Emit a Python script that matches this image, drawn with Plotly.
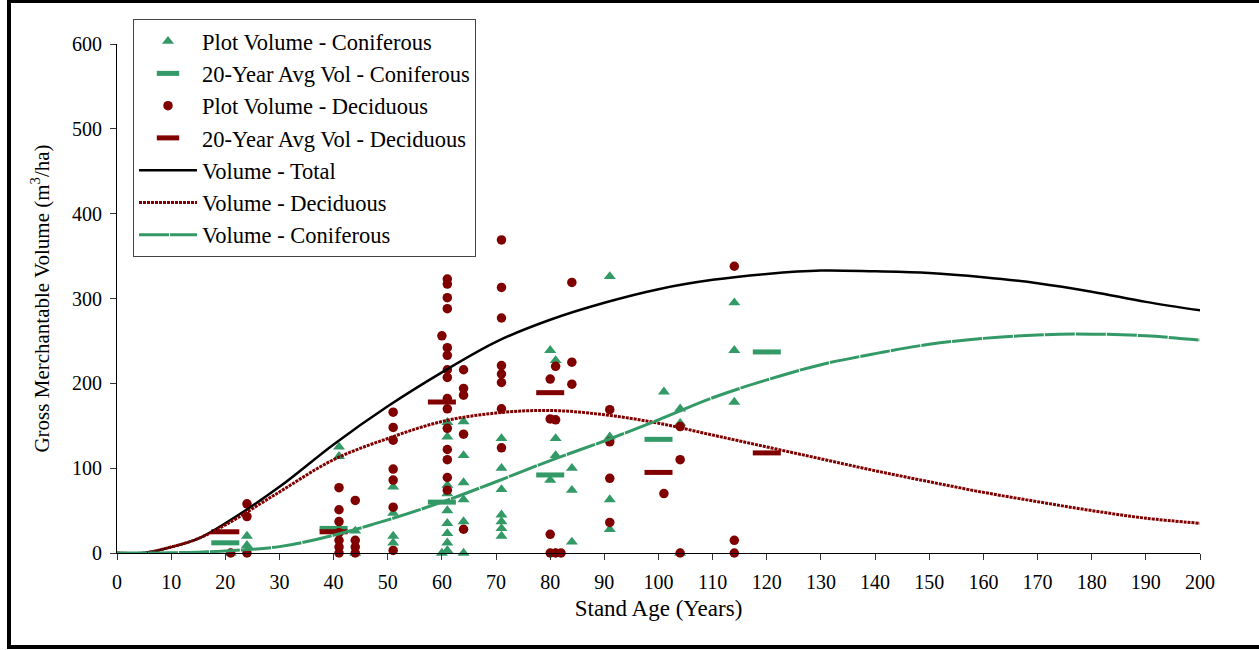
import plotly.graph_objects as go

# ---- data ----
con_age = [21, 24, 24, 41, 41, 44, 44, 51, 51, 51, 51, 60,
           61, 61, 61, 61, 61, 61, 61, 61, 61,
           64, 64, 64, 64, 64, 64,
           71, 71, 71, 71, 71, 71, 71,
           80, 80, 81, 81, 81, 81, 84, 84, 84,
           91, 91, 91, 91, 101, 104, 104, 104, 114, 114, 114]
con_vol = [0, 20, 9, 125, 114, 26, 0, 78, 47, 20, 12, 0,
           154, 137, 80, 70, 50, 35, 23, 12, 3,
           155, 115, 83, 63, 37, 0,
           135, 100, 75, 45, 37, 29, 20,
           239, 86, 227, 135, 115, 0, 100, 74, 13,
           326, 137, 63, 28, 190, 170, 153, 0, 295, 239, 178]

dec_age = [21, 24, 24, 24, 41, 41, 41, 41, 41, 41, 41, 44, 44, 44, 44,
           51, 51, 51, 51, 51, 51, 51, 60,
           61, 61, 61, 61, 61, 61, 61, 61, 61, 61, 61, 61, 61, 61, 61,
           64, 64, 64, 64, 64,
           71, 71, 71, 71, 71, 71, 71, 71,
           80, 80, 80, 80, 81, 81, 81, 82, 84, 84, 84,
           91, 91, 91, 91, 101, 104, 104, 104, 114, 114, 114]
dec_vol = [0, 58, 43, 0, 77, 51, 37, 24, 15, 7, 0, 62, 15, 7, 0,
           166, 148, 133, 99, 86, 54, 3, 256,
           323, 317, 301, 288, 242, 233, 216, 207, 182, 170, 147, 122, 110, 89, 74,
           216, 194, 186, 140, 28,
           369, 313, 277, 221, 211, 201, 170, 124,
           205, 158, 22, 0, 220, 157, 0, 0, 319, 225, 199,
           169, 131, 88, 36, 70, 149, 110, 0, 338, 15, 0]

avg_age = [20, 40, 60, 80, 100, 120]
con_avg = [12, 29, 60, 92, 134, 237]
dec_avg = [25, 25, 178, 189, 95, 118]

curve_age = [0, 5, 10, 15, 20, 30, 40, 50, 60, 70, 80, 90, 100, 110, 120,
             130, 140, 150, 160, 170, 180, 190, 200]
vol_total = [0, 0, 7, 17, 35, 78, 128, 173, 213, 249, 275, 295, 311, 322, 329,
             333, 332, 330, 325, 318, 308, 296, 286]
vol_dec = [0, 0, 7, 17, 33, 72, 110, 135, 155, 165, 168, 163, 153, 139, 125,
           111, 97, 84, 71.5, 60.5, 50, 41, 35]
vol_con = [0, 0, 0.3, 1, 2.5, 7.5, 21, 39, 60, 84, 109, 132, 157, 183, 204,
           222, 235, 246, 253, 257, 258, 256, 251]

x_ticks = list(range(0, 201, 10))
y_ticks = list(range(0, 601, 100))

GREEN = "#339966"
RED = "#800000"
FONT = "Liberation Serif"

fig = go.Figure()
fig.add_trace(go.Scatter(x=con_age, y=con_vol, mode="markers", name="Plot Volume - Coniferous",
                         marker=dict(symbol="triangle-up", size=10.5, color=GREEN), cliponaxis=False))
fig.add_trace(go.Scatter(x=avg_age, y=con_avg, mode="markers", name="20-Year Avg Vol - Coniferous",
                         marker=dict(symbol="line-ew", size=20, color=GREEN,
                                     line=dict(color=GREEN, width=5)), cliponaxis=False))
fig.add_trace(go.Scatter(x=dec_age, y=dec_vol, mode="markers", name="Plot Volume - Deciduous",
                         marker=dict(symbol="circle", size=9.5, color=RED), cliponaxis=False))
fig.add_trace(go.Scatter(x=avg_age, y=dec_avg, mode="markers", name="20-Year Avg Vol - Deciduous",
                         marker=dict(symbol="line-ew", size=20, color=RED,
                                     line=dict(color=RED, width=5)), cliponaxis=False))
fig.add_trace(go.Scatter(x=curve_age, y=vol_total, mode="lines", name="Volume - Total",
                         line=dict(color="black", width=2.5, shape="spline")))
fig.add_trace(go.Scatter(x=curve_age, y=vol_dec, mode="lines", name="Volume - Deciduous",
                         line=dict(color=RED, width=3, shape="spline", dash="3px,1px")))
fig.add_trace(go.Scatter(x=curve_age, y=vol_con, mode="lines", name="Volume - Coniferous",
                         line=dict(color=GREEN, width=3, shape="spline", dash="30px,1px")))

L, R, T, B = 117, 59, 44, 97
W, H = 1259, 650
pw, ph = W - L - R, H - T - B

fig.update_layout(
    width=W, height=H,
    margin=dict(l=L, r=R, t=T, b=B, autoexpand=False),
    paper_bgcolor="white", plot_bgcolor="white",
    font=dict(family=FONT, size=20, color="black"),
    showlegend=True,
    legend=dict(x=(133 - L) / pw, y=(H - B - 19) / ph, xanchor="left", yanchor="top",
                bgcolor="white", bordercolor="#444444", borderwidth=1,
                font=dict(family=FONT, size=22.5, color="black"),
                itemwidth=58, tracegroupgap=0),
    xaxis=dict(range=[0, 200], tickvals=x_ticks, ticks="outside", ticklen=6, tickcolor="#333333",
               showline=True, linecolor="black", linewidth=1, showgrid=False, zeroline=False,
               tickfont=dict(family=FONT, size=20), ticklabelstandoff=5,
               title=dict(text="Stand Age (Years)", font=dict(family=FONT, size=23), standoff=7)),
    yaxis=dict(range=[0, 600], tickvals=y_ticks, ticks="outside", ticklen=6, tickcolor="#333333",
               showline=True, linecolor="black", linewidth=1, showgrid=False, zeroline=False,
               tickfont=dict(family=FONT, size=20), ticklabelstandoff=4,
               title=dict(text="Gross Merchantable Volume (m<sup>3</sup>/ha)",
                          font=dict(family=FONT, size=21), standoff=16)),
    shapes=[dict(type="rect", xref="paper", yref="paper",
                 x0=(9 - L) / pw, x1=(1265 - L) / pw,
                 y0=(H - B - 647) / ph, y1=(H - B - 1) / ph,
                 line=dict(color="black", width=4), fillcolor="rgba(0,0,0,0)", layer="above")],
)

fig.write_html("out.html")
